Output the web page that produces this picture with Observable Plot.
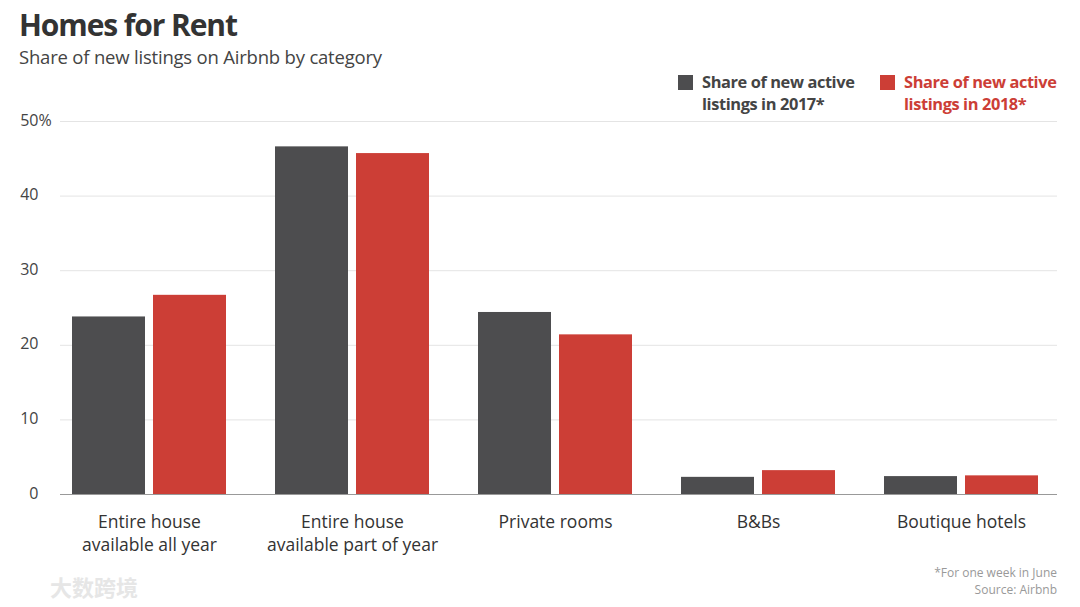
<!DOCTYPE html>
<html>
<head>
<meta charset="utf-8">
<script src="https://cdn.jsdelivr.net/npm/d3@7"></script>
<script src="https://cdn.jsdelivr.net/npm/@observablehq/plot@0.6"></script>
<style>
  html, body { margin: 0; padding: 0; background: #fff; }
  body { width: 1080px; height: 607px; position: relative; overflow: hidden; font-family: "Open Sans", "Noto Sans", sans-serif; color: #333; }
  #title { position: absolute; left: 19px; top: 4px; font-size: 30px; font-weight: 700; color: #333; letter-spacing: -1.1px; }
  #subtitle { position: absolute; left: 19px; top: 44px; font-size: 18.5px; color: #444; letter-spacing: -0.2px; }
  #chart { position: absolute; left: 0; top: 100px; }
  .legend { position: absolute; top: 71px; font-size: 16.4px; font-weight: 700; line-height: 22px; letter-spacing: -0.4px; }
  .legend .sw { position: absolute; left: 0; top: 4px; width: 15px; height: 15px; }
  .legend .tx { margin-left: 24px; }
  #foot { position: absolute; right: 23px; top: 564px; text-align: right; font-size: 12px; color: #999; line-height: 17px; }
  #wm { position: absolute; left: 50px; top: 570px; font-size: 22px; font-weight: 700; color: #e6e6e6; font-family: "Noto Sans CJK SC", sans-serif; }
</style>
</head>
<body>
<div id="title">Homes for Rent</div>
<div id="subtitle">Share of new listings on Airbnb by category</div>
<div class="legend" style="left:678px;color:#444"><div class="sw" style="background:#4d4d4f"></div><div class="tx">Share of new active<br>listings in 2017*</div></div>
<div class="legend" style="left:880px;color:#cc3e36"><div class="sw" style="background:#cc3e36"></div><div class="tx">Share of new active<br>listings in 2018*</div></div>
<div id="chart"></div>
<div id="foot">*For one week in June<br>Source: Airbnb</div>
<div id="wm">大数跨境</div>
<script>
const categories = ["Entire house available all year", "Entire house available part of year", "Private rooms", "B&Bs", "Boutique hotels"];
const tickLabels = ["Entire house\navailable all year", "Entire house\navailable part of year", "Private rooms", "B&Bs", "Boutique hotels"];
const share2017 = [23.8, 46.6, 24.4, 2.3, 2.4];
const share2018 = [26.7, 45.7, 21.4, 3.2, 2.5];
const yTicks = [0, 10, 20, 30, 40, 50];

const d2017 = categories.map((c, i) => ({category: c, value: share2017[i]}));
const d2018 = categories.map((c, i) => ({category: c, value: share2018[i]}));
const labelOf = new Map(categories.map((c, i) => [c, tickLabels[i]]));

const chart = Plot.plot({
  width: 1080,
  height: 470,
  marginTop: 21,
  marginBottom: 76,
  marginLeft: 60,
  marginRight: 23,
  style: {fontFamily: "'Open Sans', 'Noto Sans', sans-serif", background: "transparent"},
  x: {domain: categories, paddingInner: 0.24, paddingOuter: 0.074, align: 0.4},
  y: {domain: [0, 50]},
  marks: [
    Plot.gridY(yTicks.slice(1), {stroke: "#e4e4e4", strokeOpacity: 1}),
    Plot.barY(d2017, {x: "category", y: "value", fill: "#4d4d4f", insetRight: 81}),
    Plot.barY(d2018, {x: "category", y: "value", fill: "#cc3e36", insetLeft: 81}),
    Plot.ruleY([0], {stroke: "#999", strokeWidth: 1.2}),
    Plot.axisY(yTicks, {tickSize: 0, tickPadding: 22, fontSize: 16, fill: "#444", textAnchor: "end", tickFormat: d => String(d), dy: -1, label: null}),
    Plot.text([50], {y: d => d, frameAnchor: "left", dx: -22, dy: -1, text: () => "%", textAnchor: "start", fontSize: 16, fill: "#444"}),
    Plot.axisX({tickSize: 0, tickPadding: 18, fontSize: 17.5, fill: "#333", lineHeight: 1.27, tickFormat: d => labelOf.get(d), label: null})
  ]
});
document.getElementById("chart").appendChild(chart);
</script>
</body>
</html>
